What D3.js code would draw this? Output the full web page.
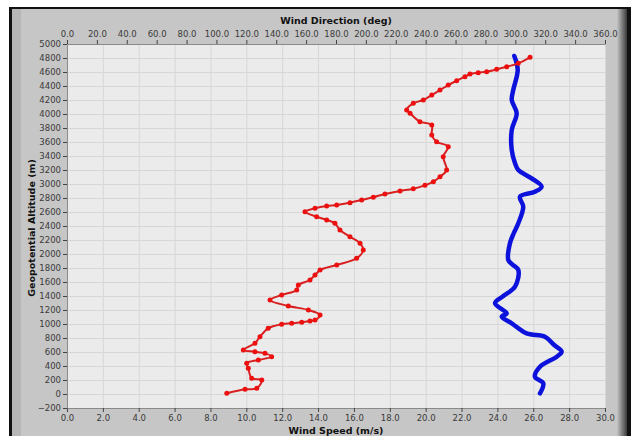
<!DOCTYPE html>
<html>
<head>
<meta charset="utf-8">
<script src="https://cdn.jsdelivr.net/npm/d3@7"></script>
<style>
  body { margin: 0; background: #fff; }
  text { font-family: "DejaVu Sans", sans-serif; }
</style>
</head>
<body>
<svg width="631" height="436"></svg>
<script>
// wind speed profile (bottom axis)
var speedValues = [8.91, 9.93, 10.58, 10.86, 10.30, 10.11, 10.02, 10.67, 11.41, 11.04, 10.48, 9.83,
  10.48, 10.76, 11.22, 11.97, 12.53, 13.09, 13.55, 13.83, 14.11, 13.46, 12.34, 11.32, 11.97, 12.81,
  12.90, 13.55, 13.83, 14.11, 15.04, 16.15, 16.52, 16.34, 15.78, 15.22, 14.94, 14.48, 13.92, 13.27,
  13.83, 14.48, 15.04, 15.78, 16.43, 17.08, 17.73, 18.57, 19.31, 19.96, 20.43, 20.80, 21.17, 20.98,
  21.26, 20.61, 20.34, 20.34, 19.68, 19.13, 18.94, 19.31, 19.87, 20.34, 20.80, 21.26, 21.73, 22.19,
  22.47, 22.93, 23.40, 23.96, 24.52, 25.16, 25.82];
var speedAltitudes = [10, 67, 81, 200, 224, 367, 439, 486, 533, 581, 604, 629,
  724, 819, 939, 996, 1010, 1024, 1043, 1057, 1129, 1200, 1257, 1343, 1414, 1486,
  1557, 1629, 1700, 1771, 1843, 1939, 2057, 2153, 2247, 2343, 2439, 2486, 2533, 2604,
  2653, 2686, 2700, 2733, 2771, 2810, 2857, 2900, 2933, 2981, 3033, 3104, 3200, 3390,
  3533, 3604, 3700, 3843, 3890, 4010, 4057, 4153, 4200, 4271, 4343, 4414, 4476, 4533,
  4571, 4590, 4604, 4638, 4676, 4724, 4810];

// wind direction profile (top axis)
var dirValues = [316.5, 318.7, 313.1, 316.5, 327.7, 331.0, 326.0, 319.8, 307.6, 297.6, 290.9,
  294.2, 286.4, 292.0, 299.8, 302.0, 298.0, 295.3, 296.4, 299.0, 302.0, 305.3, 303.1, 313.1,
  317.6, 310.9, 302.0, 299.8, 297.6, 297.6, 300.9, 297.6, 298.6, 301.6, 299.3];
var dirAltitudes = [10, 153, 247, 390, 533, 604, 700, 819, 867, 1010, 1104,
  1153, 1296, 1400, 1533, 1771, 1850, 1914, 2153, 2300, 2439, 2676, 2819, 2890,
  2961, 3081, 3200, 3296, 3486, 3771, 4010, 4200, 4343, 4629, 4829];

var speedTicks = d3.range(0, 30.01, 2);
var dirTicks = d3.range(0, 360.01, 20);
var altTicks = d3.range(-200, 5001, 200);

var svg = d3.select("svg"),
    plot = {left: 67, right: 605, top: 44, bottom: 408};

var x = d3.scaleLinear().domain([0, 30]).range([plot.left, plot.right]),
    xTop = d3.scaleLinear().domain([0, 360]).range([plot.left, plot.right]),
    y = d3.scaleLinear().domain([-200, 5000]).range([plot.bottom, plot.top]);

// panel frame
var grad = svg.append("defs").append("linearGradient").attr("id", "edge");
grad.append("stop").attr("offset", "0%").attr("stop-color", "#c4c4c4");
grad.append("stop").attr("offset", "100%").attr("stop-color", "#3a3a3a");

svg.append("rect").attr("x", 9).attr("y", 7).attr("width", 622).attr("height", 429).attr("fill", "#111");
svg.append("rect").attr("x", 12).attr("y", 9).attr("width", 606).attr("height", 427).attr("fill", "#c6c6c6");
svg.append("rect").attr("x", 12).attr("y", 9).attr("width", 9).attr("height", 427).attr("fill", "#b6b6b6");
svg.append("rect").attr("x", 617).attr("y", 9).attr("width", 10).attr("height", 427).attr("fill", "url(#edge)");

svg.append("rect")
    .attr("x", plot.left).attr("y", plot.top)
    .attr("width", plot.right - plot.left).attr("height", plot.bottom - plot.top)
    .attr("fill", "#ebebeb");

// grid
svg.append("g")
    .attr("transform", "translate(0," + plot.bottom + ")")
    .call(d3.axisBottom(x).tickValues(speedTicks).tickSize(-(plot.bottom - plot.top)).tickFormat(""))
    .call(function(g) { g.select(".domain").remove(); g.selectAll("line").attr("stroke", "#d7d7d7"); });

svg.append("g")
    .attr("transform", "translate(" + plot.left + ",0)")
    .call(d3.axisLeft(y).tickValues(altTicks).tickSize(-(plot.right - plot.left)).tickFormat(""))
    .call(function(g) { g.select(".domain").remove(); g.selectAll("line").attr("stroke", "#d7d7d7"); });

function styleAxis(g) {
  g.select(".domain").attr("stroke", "#8a8a8a");
  g.selectAll(".tick line").attr("stroke", "#444");
  g.selectAll(".tick text").attr("fill", "#3a3a3a").style("font-size", "8.5px");
}

svg.append("g")
    .attr("transform", "translate(0," + plot.bottom + ")")
    .call(d3.axisBottom(x).tickValues(speedTicks).tickSize(4).tickSizeOuter(0).tickFormat(d3.format(".1f")))
    .call(styleAxis);

svg.append("g")
    .attr("transform", "translate(0," + plot.top + ")")
    .call(d3.axisTop(xTop).tickValues(dirTicks).tickSize(4).tickSizeOuter(0).tickFormat(d3.format(".1f")))
    .call(styleAxis);

svg.append("g")
    .attr("transform", "translate(" + plot.left + ",0)")
    .call(d3.axisLeft(y).tickValues(altTicks).tickSize(4).tickSizeOuter(0).tickPadding(2).tickFormat(d3.format("d")))
    .call(styleAxis);

// titles
svg.append("text").attr("x", 336).attr("y", 24).attr("text-anchor", "middle")
    .style("font-size", "9.5px").style("font-weight", "bold").attr("fill", "#111")
    .text("Wind Direction (deg)");
svg.append("text").attr("x", 336).attr("y", 434).attr("text-anchor", "middle")
    .style("font-size", "9.5px").style("font-weight", "bold").attr("fill", "#111")
    .text("Wind Speed (m/s)");
svg.append("text").attr("transform", "translate(35,228) rotate(-90)").attr("text-anchor", "middle")
    .style("font-size", "9.5px").style("font-weight", "bold").attr("fill", "#111")
    .text("Geopotential Altitude (m)");

// series
var speedData = speedValues.map(function(v, i) { return {v: v, alt: speedAltitudes[i]}; });
var dirData = dirValues.map(function(v, i) { return {v: v, alt: dirAltitudes[i]}; });

var g = svg.append("g");

g.append("path")
    .datum(dirData)
    .attr("fill", "none").attr("stroke", "#0c12dc").attr("stroke-width", 4.5)
    .attr("stroke-linejoin", "round").attr("stroke-linecap", "round")
    .attr("d", d3.line().x(function(d) { return xTop(d.v); }).y(function(d) { return y(d.alt); }).curve(d3.curveCatmullRom));

g.append("path")
    .datum(speedData)
    .attr("fill", "none").attr("stroke", "#d82020").attr("stroke-width", 2)
    .attr("stroke-linejoin", "round")
    .attr("d", d3.line().x(function(d) { return x(d.v); }).y(function(d) { return y(d.alt); }).curve(d3.curveCatmullRom));

g.selectAll(".dot")
    .data(speedData)
    .enter().append("circle")
      .attr("class", "dot")
      .attr("cx", function(d) { return x(d.v); })
      .attr("cy", function(d) { return y(d.alt); })
      .attr("r", 2.5)
      .attr("fill", "#ec1010");
</script>
</body>
</html>
